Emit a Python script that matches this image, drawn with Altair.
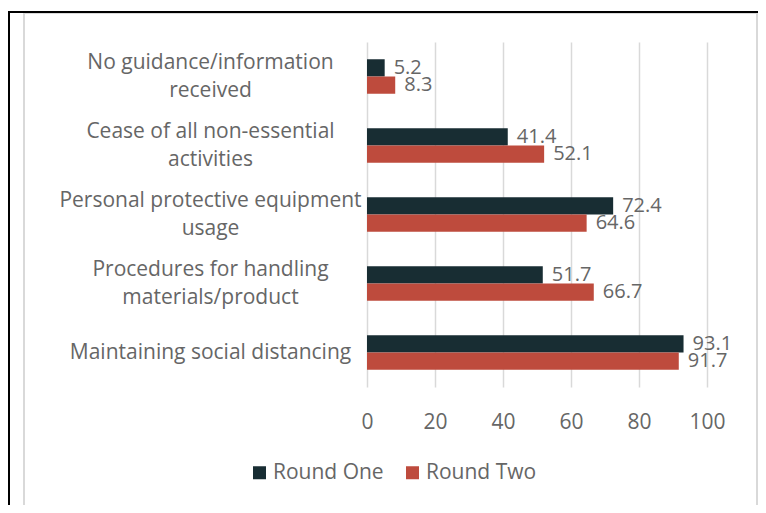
import altair as alt
import pandas as pd

categories = [
    "No guidance/information\nreceived",
    "Cease of all non-essential\nactivities",
    "Personal protective equipment\nusage",
    "Procedures for handling\nmaterials/product",
    "Maintaining social distancing",
]
series = ["Round One", "Round Two"]
round_one = [5.2, 41.4, 72.4, 51.7, 93.1]
round_two = [8.3, 52.1, 64.6, 66.7, 91.7]
x_ticks = [0, 20, 40, 60, 80, 100]

rows = []
for c, a, b in zip(categories, round_one, round_two):
    rows.append({"category": c, "series": series[0], "value": a})
    rows.append({"category": c, "series": series[1], "value": b})
df = pd.DataFrame(rows)

TXT = "#666666"
FONT = "Open Sans"
DARK = "#182D33"
RED = "#BE4B3D"

base = alt.Chart(df).encode(
    y=alt.Y(
        "category:N",
        sort=categories,
        scale=alt.Scale(paddingInner=0.5, paddingOuter=0.25),
        axis=alt.Axis(
            title=None, domain=False, ticks=False, tickSize=0, grid=False,
            labelAlign="center", labelPadding=157, labelLimit=0,
            labelExpr="split(datum.label, '\\n')", labelLineHeight=28,
            labelOffset={
                "condition": {"test": "indexof(datum.label, '\\n') >= 0", "value": -14},
                "value": 0,
            },
            labelFontSize=21, labelFont=FONT, labelColor=TXT,
        ),
    ),
    yOffset=alt.YOffset("series:N", sort=series),
    x=alt.X(
        "value:Q",
        scale=alt.Scale(domain=[0, 100]),
        axis=alt.Axis(
            title=None, domain=False, ticks=False, tickSize=0, values=x_ticks,
            grid=True, gridColor="#d9d9d9", gridWidth=1.5, labelFlush=False,
            labelFontSize=21, labelFont=FONT, labelColor=TXT, labelPadding=24,
        ),
    ),
)

bars = base.mark_bar().encode(
    color=alt.Color(
        "series:N",
        sort=series,
        scale=alt.Scale(domain=series, range=[DARK, RED]),
        legend=alt.Legend(
            title=None, orient="none", legendX=-118, legendY=420,
            direction="horizontal", symbolType="square", symbolSize=169,
            symbolStrokeWidth=0, labelFontSize=21, labelFont=FONT,
            labelColor=TXT, columnPadding=18, labelOffset=3,
        ),
    )
)

labels = base.mark_text(
    align="left", baseline="middle", dx=9, fontSize=20, font=FONT, color=TXT
).encode(text=alt.Text("value:Q", format=".1f"))

deco = pd.DataFrame({"d": [0]})
frame = alt.Chart(deco).mark_rect(
    fillOpacity=0, stroke="#d9d9d9", strokeWidth=2
).encode(x=alt.value(-343), x2=alt.value(390), y=alt.value(-29), y2=alt.value(467))
black_left = alt.Chart(deco).mark_rule(color="black", strokeWidth=2).encode(
    x=alt.value(-358), y=alt.value(-31), y2=alt.value(480)
)
black_top = alt.Chart(deco).mark_rule(color="black", strokeWidth=2).encode(
    y=alt.value(-30), x=alt.value(-359), x2=alt.value(420)
)

chart = (
    alt.layer(frame, black_left, black_top, bars, labels)
    .properties(
        width=340,
        height=345,
        autosize=alt.AutoSizeParams(type="none"),
        padding={"left": 359, "top": 34, "right": 51, "bottom": 118},
        background="white",
    )
    .configure_view(stroke=None)
)

chart.save("out.html", embed_options={"renderer": "svg", "actions": False})
